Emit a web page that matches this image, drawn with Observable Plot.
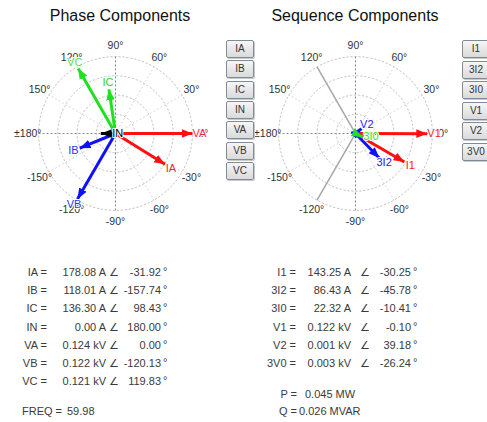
<!DOCTYPE html>
<html><head><meta charset="utf-8">
<script src="https://cdn.jsdelivr.net/npm/d3@7"></script>
<script src="https://cdn.jsdelivr.net/npm/@observablehq/plot@0.6"></script>
<style>
body{margin:0;background:#fff;}
#root{position:relative;width:487px;height:422px;overflow:hidden;background:#fff;font-family:"Liberation Sans",Arial,sans-serif;color:#3a3a3a;}
.title{position:absolute;top:7px;font-size:16px;color:#111;text-align:center;white-space:nowrap;}
.btn{position:absolute;width:28px;height:18px;box-sizing:border-box;border:1px solid #7f8c97;border-radius:2px;background:linear-gradient(#f6f6f6,#dadada);font-size:10px;line-height:16px;text-align:center;color:#333;box-shadow:1px 1px 0 #c9c9c9;}
.cell{position:absolute;font-size:11px;line-height:13px;white-space:nowrap;}
.r{text-align:right;}
.polar{position:absolute;}
</style></head>
<body><div id="root"></div>
<script>
// ---------- data ----------
const phaseNames = ["IA","IB","IC","IN","VA","VB","VC"];
const phaseMag   = [178.08, 118.01, 136.30, 0.00, 0.124, 0.122, 0.121];
const phaseAng   = [-31.92, -157.74, 98.43, 180.00, 0.00, -120.13, 119.83];
const phaseUnit  = ["A","A","A","A","kV","kV","kV"];

const seqNames = ["I1","3I2","3I0","V1","V2","3V0"];
const seqMag   = [143.25, 86.43, 22.32, 0.122, 0.001, 0.003];
const seqAng   = [-30.25, -45.78, -10.41, -0.10, 39.18, -26.24];
const seqUnit  = ["A","A","A","kV","kV","kV"];

const freqValue = 59.98;
const powerLabels = ["P =", "Q ="];
const powerValues = ["0.045 MW", "0.026 MVAR"];

const tickAngles = [90, 60, 30, 0, -30, -60, -90, -120, -150, 180, 150, 120];
const tickLabels = ["90°","60°","30°","0°","-30°","-60°","-90°","-120°","-150°","±180°","150°","120°"];
const ringLevels = [0.25, 0.5, 0.75, 1];
const seqBoundaryAngles = [120, -120];

// ---------- styles ----------
const colorOf = {IA:"#ff1010",IB:"#1010ff",IC:"#20e020",IN:"#000000",VA:"#ff1010",VB:"#1010ff",VC:"#20e020",
                 I1:"#ff1010","3I2":"#1010ff","3I0":"#20e020",V1:"#ff1010",V2:"#1010ff","3V0":"#20e020"};
const labelColorOf = {IA:"#ff2040",IB:"#3030ff",IC:"#30d030",IN:"#000",VA:"#ff2040",VB:"#3030ff",VC:"#50e050",
                 I1:"#ff2020","3I2":"#2020ff","3I0":"#30e030",V1:"#ff2020",V2:"#2020ff","3V0":"#30e030"};

const root = document.getElementById("root");
function el(cls, html, style){ const d=document.createElement("div"); d.className=cls; d.innerHTML=html; Object.assign(d.style, style); root.appendChild(d); return d; }

function headMarker(color){
  const ns="http://www.w3.org/2000/svg";
  const m=document.createElementNS(ns,"marker");
  m.setAttribute("viewBox","-10 -5 10 10");
  m.setAttribute("markerWidth","3.6");
  m.setAttribute("markerHeight","3.6");
  m.setAttribute("orient","auto");
  m.setAttribute("refX","0"); m.setAttribute("refY","0");
  m.setAttribute("fill",color); m.setAttribute("stroke","none");
  const p=document.createElementNS(ns,"path");
  p.setAttribute("d","M-10,-4L0,0L-10,4Z");
  m.appendChild(p);
  return m;
}

const rad = a => a*Math.PI/180;
const SIZE = 220, HALF = 1.43; // 77px per unit

function polar(names, mags, angs, units, fullScale, minLen, extra, hideLabel){
  const vecs = names.map((name,i)=>{
    const r0 = mags[i]/fullScale[units[i]];
    const r = Math.max(r0, minLen);
    return {name, r0, r, ang: angs[i]};
  });
  const rings = ringLevels.flatMap(lv => d3.range(0,361,4).map(a=>({lv, x: lv*Math.cos(rad(a)), y: lv*Math.sin(rad(a))})));
  const spokes = tickAngles.filter(a=>a%90!==0).map(a=>({a}));
  const axes = [{x1:-1,y1:0,x2:1,y2:0},{x1:0,y1:-1,x2:0,y2:1}];
  const ticks = tickAngles.map((a,i)=>({a, label: tickLabels[i]}));
  const lbl = vecs.filter(v=>!hideLabel.includes(v.name)).map(v=>{
    if (v.r0===0) return {...v, lx: 0.03, ly: 0, anchor:"start"};
    const rr = v.r + 0.09;
    return {...v, lx: rr*Math.cos(rad(v.ang)), ly: rr*Math.sin(rad(v.ang)), anchor:"middle"};
  });
  const marks = [
    Plot.line(rings, {x:"x", y:"y", z:"lv", stroke:"#c4c4c4", strokeWidth:1, strokeDasharray:"1.5,2.5"}),
    Plot.link(spokes, {x1:0, y1:0, x2:d=>Math.cos(rad(d.a)), y2:d=>Math.sin(rad(d.a)), stroke:"#cfcfcf", strokeDasharray:"1.5,2.5"}),
    Plot.link(axes, {x1:"x1", y1:"y1", x2:"x2", y2:"y2", stroke:"#8a8a8a", strokeDasharray:"2,2"}),
    ...extra(),
    Plot.text(ticks, {x:d=>1.14*Math.cos(rad(d.a)), y:d=>1.14*Math.sin(rad(d.a)), text:"label", fontSize:10.5, fill:"#333", fontFamily:"Liberation Sans, Arial, sans-serif"}),
    Plot.link(vecs, {x1:0, y1:0, x2:d=>d.r*Math.cos(rad(d.ang)), y2:d=>d.r*Math.sin(rad(d.ang)), stroke:d=>colorOf[d.name], strokeWidth:3, markerEnd: headMarker}),
    Plot.text(lbl, {x:"lx", y:"ly", text:"name", textAnchor:"anchor", fill:d=>labelColorOf[d.name], stroke:"white", strokeWidth:2, fontSize:11, fontFamily:"Liberation Sans, Arial, sans-serif"})
  ];
  return Plot.plot({
    width:SIZE, height:SIZE, margin:0,
    x:{domain:[-HALF,HALF], axis:null},
    y:{domain:[-HALF,HALF], axis:null},
    style:{background:"transparent", overflow:"visible"},
    marks
  });
}

// titles
el("title","Phase Components",{left:"0px", width:"240px"});
el("title","Sequence Components",{left:"240px", width:"230px"});

// phase polar
const p1 = polar(phaseNames, phaseMag, phaseAng, phaseUnit, {A:235, kV:0.124}, 0.19, ()=>[], []);
p1.classList.add("polar"); p1.style.left="5px"; p1.style.top="23px"; root.appendChild(p1);

// sequence polar
const p2 = polar(seqNames, seqMag, seqAng, seqUnit, {A:195, kV:0.131}, 0.1,
  ()=>[Plot.link(seqBoundaryAngles.map(a=>({a})), {x1:0,y1:0,x2:d=>Math.cos(rad(d.a)),y2:d=>Math.sin(rad(d.a)),stroke:"#a8a8a8",strokeWidth:1.5})],
  ["3V0"]);
p2.classList.add("polar"); p2.style.left="245px"; p2.style.top="23px"; root.appendChild(p2);

// buttons
phaseNames.forEach((n,i)=> el("btn", n, {left:"226px", top:(40+20.3*i)+"px"}));
seqNames.forEach((n,i)=> el("btn", n, {left:"462px", top:(40+20.5*i)+"px"}));

// tables
function fmtMag(m,u){ return u==="A" ? m.toFixed(2)+" A" : m.toFixed(3)+" kV"; }
function table(names, mags, angs, units, cols){
  names.forEach((n,i)=>{
    const top = 266 + 18.2*i;
    el("cell r", n+" =", {left:(cols.lab-60)+"px", width:"60px", top:top+"px"});
    el("cell r", fmtMag(mags[i],units[i]), {left:(cols.mag-80)+"px", width:"80px", top:top+"px"});
    el("cell", "∠", {left:cols.angSym+"px", top:top+"px", fontFamily:"DejaVu Sans, sans-serif", fontSize:"11px"});
    el("cell r", angs[i].toFixed(2), {left:(cols.ang-60)+"px", width:"60px", top:top+"px"});
    el("cell", "°", {left:(cols.ang+2)+"px", top:(top-1)+"px"});
  });
}
table(phaseNames, phaseMag, phaseAng, phaseUnit, {lab:47, mag:106, angSym:109, ang:161});
table(seqNames, seqMag, seqAng, seqUnit, {lab:296, mag:351, angSym:360, ang:411});

el("cell", "FREQ =", {left:"22px", top:"405px"});
el("cell", freqValue.toFixed(2), {left:"67px", top:"405px"});
el("cell r", powerLabels[0], {left:"237px", width:"60px", top:"388px"});
el("cell", powerValues[0], {left:"305px", top:"388px"});
el("cell r", powerLabels[1], {left:"237px", width:"60px", top:"405px"});
el("cell", powerValues[1], {left:"299px", top:"405px"});
</script></body></html>
